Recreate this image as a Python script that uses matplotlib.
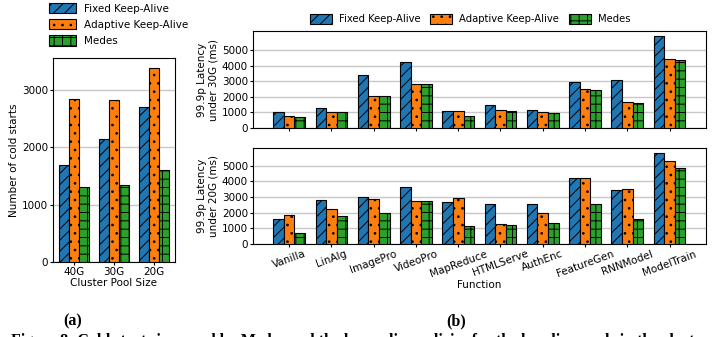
import matplotlib
matplotlib.use("Agg")
import matplotlib.pyplot as plt
import numpy as np

# (a) cold starts per cluster pool size
pool_sizes = ["40G", "30G", "20G"]
cold_fixed = [1690, 2140, 2700]
cold_adaptive = [2840, 2820, 3390]
cold_medes = [1310, 1350, 1610]

# (b) 99.9p latency per function
functions = ["Vanilla", "LinAlg", "ImagePro", "VideoPro", "MapReduce",
             "HTMLServe", "AuthEnc", "FeatureGen", "RNNModel", "ModelTrain"]
lat30_fixed = [1010, 1290, 3410, 4250, 1090, 1480, 1160, 2960, 3090, 5940]
lat30_adaptive = [770, 1030, 2060, 2830, 1090, 1160, 1010, 2510, 1670, 4440]
lat30_medes = [690, 1030, 2040, 2810, 790, 1090, 940, 2470, 1610, 4360]
lat20_fixed = [1590, 2800, 3030, 3620, 2670, 2540, 2540, 4240, 3430, 5850]
lat20_adaptive = [1840, 2220, 2880, 2750, 2920, 1270, 1990, 4240, 3500, 5320]
lat20_medes = [680, 1780, 1970, 2750, 1140, 1210, 1330, 2540, 1610, 4850]

series_names = ["Fixed Keep-Alive", "Adaptive Keep-Alive", "Medes"]
colors = ["#1f77b4", "#ff7f0e", "#2ca02c"]
hatches = ["///", "..", "++"]

plt.rcParams["hatch.linewidth"] = 0.7
plt.rcParams["font.size"] = 7.5

fig = plt.figure(figsize=(7.16, 3.37), dpi=100)
ax_a = fig.add_axes([0.074, 0.2226, 0.170, 0.605])
ax_top = fig.add_axes([0.353, 0.620, 0.633, 0.288])
ax_bot = fig.add_axes([0.353, 0.276, 0.633, 0.285])

w = 0.25


def draw_groups(ax, n, groups):
    x = np.arange(n)
    handles = []
    for k, vals in enumerate(groups):
        h = ax.bar(x + (k - 1) * w, vals, w, color=colors[k], hatch=hatches[k],
                   edgecolor="black", linewidth=0.8, label=series_names[k], zorder=3)
        handles.append(h)
    ax.yaxis.grid(True, color="#c8c8c8", linewidth=1.0, zorder=0)
    ax.set_axisbelow(True)
    ax.tick_params(length=2, pad=1.5)
    return x, handles


x, handles = draw_groups(ax_a, len(pool_sizes), [cold_fixed, cold_adaptive, cold_medes])
ax_a.set_xticks(x)
ax_a.set_xticklabels(pool_sizes)
ax_a.set_yticks([0, 1000, 2000, 3000])
ax_a.set_ylabel("Number of cold starts", labelpad=2)
ax_a.set_xlabel("Cluster Pool Size", labelpad=1)
ax_a.legend(handles=handles, loc="lower left", bbox_to_anchor=(-0.08, 1.03), ncol=1,
            frameon=False, handlelength=2.5, handleheight=1.2, handletextpad=0.8,
            labelspacing=0.5, borderaxespad=0.2)

x, handles = draw_groups(ax_top, len(functions), [lat30_fixed, lat30_adaptive, lat30_medes])
ax_top.set_xticks(x)
ax_top.set_xticklabels([])
ax_top.set_yticks(range(0, 5001, 1000))
ax_top.set_ylabel("99.9p Latency\nunder 30G (ms)", labelpad=2)
ax_top.legend(handles=handles, loc="lower center", bbox_to_anchor=(0.48, 1.02), ncol=3,
              frameon=False, handlelength=2.2, handleheight=1.2, columnspacing=1.0,
              handletextpad=0.7, borderaxespad=0.1, fontsize=7.2)

x, handles = draw_groups(ax_bot, len(functions), [lat20_fixed, lat20_adaptive, lat20_medes])
ax_bot.set_xticks(x)
ax_bot.set_xticklabels(functions, rotation=20)
ax_bot.set_yticks(range(0, 5001, 1000))
ax_bot.set_ylabel("99.9p Latency\nunder 20G (ms)", labelpad=2)
ax_bot.set_xlabel("Function", labelpad=1)

serif = ["Liberation Serif", "DejaVu Serif"]
fig.text(0.102, 0.045, "(a)", ha="center", va="center", fontsize=11.5,
         fontweight="bold", family=serif)
fig.text(0.637, 0.045, "(b)", ha="center", va="center", fontsize=11.5,
         fontweight="bold", family=serif)
# caption line, cut at the bottom edge as in the reference
fig.text(0.015, -0.012, "Figure 8: Cold starts incurred by Medes and the keep-alive policies for the baseline pools in the cluster, and the 99.9p li",
         ha="left", va="center", fontsize=11.5, fontweight="bold", family=serif)

fig.savefig("out.png", dpi=100)
